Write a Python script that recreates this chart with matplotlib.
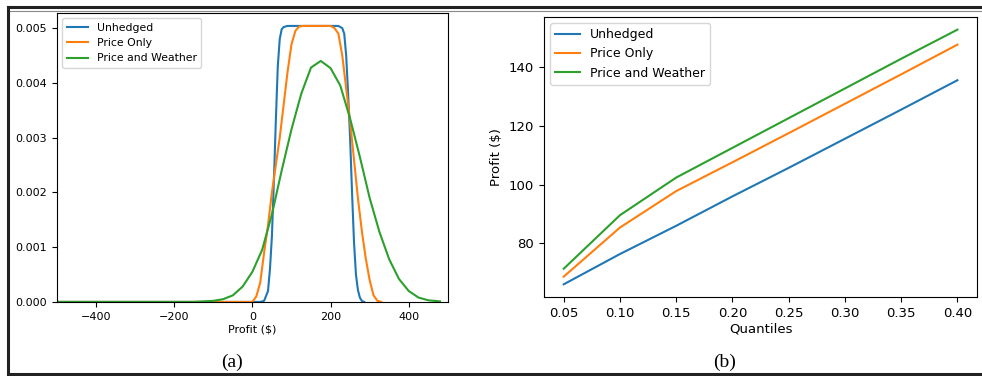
import matplotlib
matplotlib.use("Agg")
import matplotlib.pyplot as plt
from matplotlib.lines import Line2D

# Panel (a): profit densities
x_unhedged = [-500, 0, 20, 30, 40, 45, 50, 55, 60, 65, 70, 75, 80, 90, 220, 230, 235,
              240, 245, 250, 255, 260, 265, 270, 275, 280, 286]
d_unhedged = [0, 0, 0, 0.00002, 0.0002, 0.0006, 0.0012, 0.0022, 0.0033, 0.0043, 0.0048,
              0.00498, 0.00502, 0.00504, 0.00504, 0.00500, 0.0049, 0.0045, 0.0038, 0.0030,
              0.0020, 0.0011, 0.0005, 0.00022, 0.00008, 0.00002, 0]

x_price = [-500, 0, 10, 20, 30, 40, 50, 60, 70, 80, 90, 100, 110, 120, 130, 200, 210,
           220, 230, 240, 250, 260, 270, 280, 290, 300, 310, 320, 330]
d_price = [0, 0, 0.0001, 0.00035, 0.0009, 0.0014, 0.0020, 0.0025, 0.0030, 0.0036, 0.0042,
           0.0047, 0.00495, 0.00503, 0.00504, 0.00504, 0.00500, 0.0049, 0.0045, 0.0039,
           0.0033, 0.0026, 0.0019, 0.0013, 0.0008, 0.0004, 0.00012, 0.00002, 0]

x_weather = [-500, -150, -125, -100, -75, -50, -25, 0, 25, 50, 75, 100, 125, 150, 175,
             200, 225, 250, 275, 300, 325, 350, 375, 400, 425, 450, 480]
d_weather = [0, 0, 0.00001, 0.00002, 0.00005, 0.00012, 0.00028, 0.00055, 0.00095, 0.0016,
             0.0024, 0.00315, 0.0038, 0.00428, 0.0044, 0.00427, 0.00395, 0.00335, 0.00265,
             0.0019, 0.00128, 0.00078, 0.00042, 0.0002, 0.00008, 0.00003, 0.00001]

# Panel (b): profit by quantile
quantiles = [0.05, 0.10, 0.15, 0.20, 0.25, 0.30, 0.35, 0.40]
q_unhedged = [66.1, 76.4, 86.0, 96.0, 105.7, 115.6, 125.5, 135.5]
q_price = [68.7, 85.4, 97.8, 107.6, 117.5, 127.5, 137.5, 147.6]
q_weather = [71.4, 89.6, 102.4, 112.5, 122.6, 132.7, 142.8, 152.7]

labels = ["Unhedged", "Price Only", "Price and Weather"]

fig = plt.figure(figsize=(9.82, 3.76), dpi=100)

ax1 = fig.add_axes([0.058, 0.197, 0.398, 0.769])
ax1.plot(x_unhedged, d_unhedged, label=labels[0])
ax1.plot(x_price, d_price, label=labels[1])
ax1.plot(x_weather, d_weather, label=labels[2])
ax1.set_xlim(-500, 500)
ax1.set_ylim(0, 0.00528)
ax1.set_yticks([0, 0.001, 0.002, 0.003, 0.004, 0.005])
ax1.set_xlabel("Profit ($)", fontsize=8, labelpad=2)
ax1.tick_params(labelsize=8)
ax1.legend(loc="upper left", fontsize=7.8)

ax2 = fig.add_axes([0.554, 0.210, 0.441, 0.745])
ax2.plot(quantiles, q_unhedged, label=labels[0])
ax2.plot(quantiles, q_price, label=labels[1])
ax2.plot(quantiles, q_weather, label=labels[2])
ax2.set_yticks([80, 100, 120, 140])
ax2.set_xlabel("Quantiles", fontsize=9.5, labelpad=2)
ax2.set_ylabel("Profit ($)", fontsize=9.5)
ax2.tick_params(labelsize=9.5)
ax2.legend(loc="upper left", fontsize=9)

fig.text(232 / 982, 1 - 362 / 376, "(a)", family="Liberation Serif", fontsize=14,
         ha="center", va="center")
fig.text(725 / 982, 1 - 362 / 376, "(b)", family="Liberation Serif", fontsize=14,
         ha="center", va="center")

# outer frame
fig.add_artist(Line2D([8 / 982, 1], [1 - 7 / 376, 1 - 7 / 376], color="#222222", lw=2.2))
fig.add_artist(Line2D([8 / 982, 1], [1 - 10.5 / 376, 1 - 10.5 / 376], color="#888888", lw=0.8))
fig.add_artist(Line2D([8 / 982, 8 / 982], [0, 1 - 7 / 376], color="#222222", lw=2.2))
fig.add_artist(Line2D([8 / 982, 1], [2 / 376, 2 / 376], color="#222222", lw=2.2))

fig.savefig("out.png", dpi=100)
